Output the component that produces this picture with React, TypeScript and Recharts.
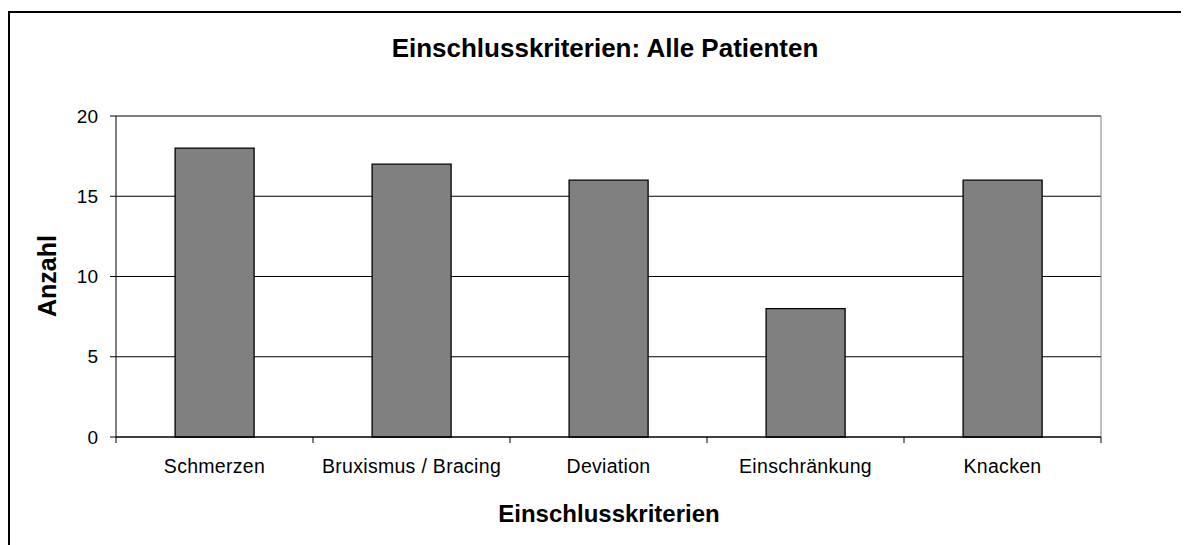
import { BarChart, Bar, XAxis, YAxis, CartesianGrid, ReferenceLine } from 'recharts';

// Einschlusskriterien – Anzahl Patienten je Kriterium
const categories = ['Schmerzen', 'Bruxismus / Bracing', 'Deviation', 'Einschränkung', 'Knacken'];
const counts = [18, 17, 16, 8, 16];
const yTicks = [0, 5, 10, 15, 20];

const chartTitle = 'Einschlusskriterien: Alle Patienten';
const xTitle = 'Einschlusskriterien';
const yTitle = 'Anzahl';

const data = categories.map((name, i) => ({ name, anzahl: counts[i] }));

const FONT = '"Liberation Sans", Arial, Helvetica, sans-serif';
const W = 1173;
const H = 529;

// label under each category plus the tick marks on the band borders
function CategoryTick(props: any) {
  const { x, y, payload, index, visibleTicksCount, width } = props;
  const half = payload?.offset || width / visibleTicksCount / 2;
  const isLast = index === visibleTicksCount - 1;
  return (
    <g>
      <line x1={x - half} x2={x - half} y1={y} y2={y + 6} stroke="#000" />
      {isLast && <line x1={x + half} x2={x + half} y1={y} y2={y + 6} stroke="#000" />}
      <text
        x={x}
        y={y + 22}
        dy="0.71em"
        textAnchor="middle"
        fill="#000"
        fontSize={19.5}
        letterSpacing={0.3}
        fontFamily={FONT}
      >
        {payload.value}
      </text>
    </g>
  );
}

export default function App() {
  return (
    <div style={{ position: 'relative', width: 1181, height: 537, fontFamily: FONT }}>
      <style>{'html, body { overflow: hidden; }'}</style>
      <div
        style={{
          position: 'absolute',
          left: 0,
          top: 3,
          width: 1400,
          height: 800,
          borderLeft: '2px solid #000',
          borderTop: '2px solid #000',
        }}
      />
      <div style={{ position: 'absolute', left: 0, top: 0 }}>
        <BarChart
          width={W}
          height={H}
          data={data}
          margin={{ top: 108, right: 80, bottom: 0, left: 0 }}
          barCategoryGap="30%"
        >
          <CartesianGrid vertical={false} stroke="#000" strokeWidth={1} />
          <CartesianGrid
            horizontal={false}
            stroke="#808080"
            verticalCoordinatesGenerator={({ offset }: any) => [offset.left + offset.width]}
          />
          <XAxis
            dataKey="name"
            height={100}
            tickLine={false}
            tickSize={0}
            tickMargin={0}
            axisLine={{ stroke: '#000' }}
            tick={<CategoryTick />}
            interval={0}
          />
          <YAxis
            width={108}
            domain={[0, 20]}
            ticks={yTicks}
            interval={0}
            tickSize={6}
            tickMargin={12}
            axisLine={{ stroke: '#000' }}
            tickLine={{ stroke: '#000' }}
            tick={{ fill: '#000', fontSize: 19, fontFamily: FONT }}
          />
          <ReferenceLine y={20} stroke="#808080" />
          <Bar
            dataKey="anzahl"
            fill="#808080"
            stroke="#000"
            strokeWidth={1.3}
            isAnimationActive={false}
          />
          <text
            x={597}
            y={49}
            textAnchor="middle"
            fontSize={26}
            fontWeight="bold"
            fontFamily={FONT}
            fill="#000"
          >
            {chartTitle}
          </text>
          <text
            x={601}
            y={514}
            textAnchor="middle"
            fontSize={24}
            fontWeight="bold"
            fontFamily={FONT}
            fill="#000"
          >
            {xTitle}
          </text>
          <text
            x={39}
            y={268}
            transform="rotate(-90 39 268)"
            textAnchor="middle"
            dominantBaseline="central"
            fontSize={25}
            fontWeight="bold"
            fontFamily={FONT}
            fill="#000"
          >
            {yTitle}
          </text>
        </BarChart>
      </div>
    </div>
  );
}
